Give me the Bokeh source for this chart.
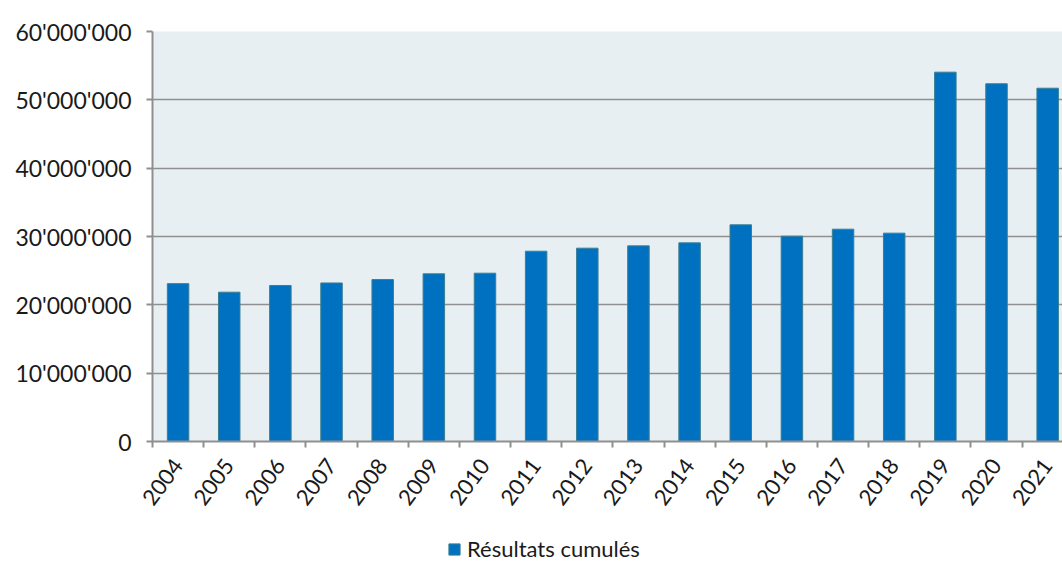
from bokeh.plotting import figure
from bokeh.layouts import column
from bokeh.models import FixedTicker, Range1d, Legend, LegendItem
from bokeh.embed import file_html
from bokeh.resources import INLINE

years = ["2004", "2005", "2006", "2007", "2008", "2009", "2010", "2011", "2012",
         "2013", "2014", "2015", "2016", "2017", "2018", "2019", "2020", "2021"]
results = [23100000, 21850000, 22830000, 23200000, 23700000, 24540000, 24630000,
           27850000, 28290000, 28630000, 29070000, 31710000, 30050000, 31070000,
           30490000, 54050000, 52350000, 51700000]
y_ticks = [0, 10000000, 20000000, 30000000, 40000000, 50000000, 60000000]
y_labels = ["0", "10'000'000", "20'000'000", "30'000'000", "40'000'000",
            "50'000'000", "60'000'000"]
series_name = "Résultats cumulés"

FONT = "Lato"
GRID = "#8f8f8f"
BAR_FILL = "#0070c0"
BAR_LINE = "#3a7f92"

centers = [i + 0.5 for i in range(len(years))]
bounds = [float(i) for i in range(len(years) + 1)]

p = figure(width=1062, height=523, output_backend="svg", toolbar_location=None,
           x_range=Range1d(0, 17.79), y_range=Range1d(0, 60000000),
           min_border_left=152, min_border_right=0, min_border_top=31,
           min_border_bottom=82)
p.background_fill_color = "#e8eff3"
p.border_fill_color = "white"
p.outline_line_color = None

bars = p.vbar(x=centers, top=results, width=0.42, fill_color=BAR_FILL,
              line_color=BAR_LINE, line_width=1)

# y axis
p.yaxis.ticker = FixedTicker(ticks=y_ticks)
p.yaxis.major_label_overrides = {t: l for t, l in zip(y_ticks, y_labels)}
p.yaxis.major_label_text_font = FONT
p.yaxis.major_label_text_font_size = "23px"
p.yaxis.major_label_text_color = "#1a1a1a"
p.yaxis.major_label_standoff = 15
p.yaxis.axis_line_color = GRID
p.yaxis.axis_line_width = 2
p.yaxis.major_tick_line_color = GRID
p.yaxis.major_tick_line_width = 2
p.yaxis.major_tick_out = 6
p.yaxis.major_tick_in = 0
p.yaxis.minor_tick_line_color = None

# x axis
p.xaxis.ticker = FixedTicker(ticks=centers, minor_ticks=bounds)
p.xaxis.major_label_overrides = {c: y for c, y in zip(centers, years)}
p.xaxis.major_label_orientation = 0.93
p.xaxis.major_label_text_font = FONT
p.xaxis.major_label_text_font_size = "22px"
p.xaxis.major_label_text_color = "#1a1a1a"
p.xaxis.major_label_standoff = 14
p.xaxis.axis_line_color = GRID
p.xaxis.axis_line_width = 2
p.xaxis.major_tick_line_color = None
p.xaxis.minor_tick_line_color = GRID
p.xaxis.minor_tick_line_width = 2
p.xaxis.minor_tick_out = 6
p.xaxis.minor_tick_in = 0

# grid
p.xgrid.grid_line_color = None
p.ygrid.grid_line_color = GRID
p.ygrid.grid_line_width = 1.5

# legend strip below the chart (its proxy bars lie outside its visible range)
lg = figure(width=1062, height=40, output_backend="svg", toolbar_location=None,
            x_axis_type=None, y_axis_type=None,
            x_range=Range1d(-100, -99), y_range=Range1d(0, 1),
            min_border=0, min_border_left=0, min_border_right=0,
            min_border_top=0, min_border_bottom=0)
lg.outline_line_color = None
lg.background_fill_color = "white"
lg.border_fill_color = "white"
lg.xgrid.visible = False
lg.ygrid.visible = False
proxy = lg.vbar(x=centers, top=results, width=0.42, fill_color=BAR_FILL,
                line_color=BAR_LINE, line_width=1)

legend = Legend(items=[LegendItem(label=series_name, renderers=[proxy])],
                location=(295, 1), orientation="horizontal",
                padding=0, margin=0, spacing=0,
                glyph_width=14, glyph_height=14, label_height=20,
                label_standoff=6, border_line_color=None,
                background_fill_alpha=0,
                label_text_font=FONT, label_text_font_size="22px",
                label_text_color="#1a1a1a")
lg.add_layout(legend, "center")

layout = column(p, lg, spacing=0)
open("out.html", "w").write(file_html(layout, INLINE))
